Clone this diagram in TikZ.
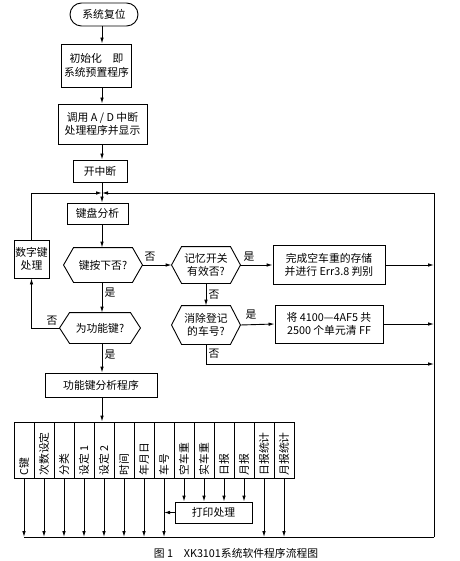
\documentclass[tikz,border=0pt]{standalone}
\usepackage{fontspec}
\setmainfont{Noto Sans CJK SC}
\usetikzlibrary{arrows.meta}
\newcommand\hexshape[1]{\draw (#1.west) -- ([xshift=10pt]#1.north west) -- ([xshift=-10pt]#1.north east) -- (#1.east) -- ([xshift=-10pt]#1.south east) -- ([xshift=10pt]#1.south west) -- cycle;}
\begin{document}
\begin{tikzpicture}[x=1pt,y=-1pt,line width=0.9pt,
  >={Latex[length=6pt,width=3.6pt]},
  font=\fontsize{10.8}{13.5}\selectfont,
  box/.style={draw,inner sep=0pt,align=center},
  hex/.style={inner sep=0pt,align=center},
  lab/.style={inner sep=0pt},
  vbox/.style={draw,minimum width=20pt,minimum height=56pt,inner sep=0pt},
  vtxt/.style={rotate=90,anchor=west,inner sep=0pt}]
\useasboundingbox (0,0) rectangle (459,561);
% main column
\node[draw,rounded corners=11.5pt,minimum width=68pt,minimum height=23pt,inner sep=0pt] (start) at (104,14.5) {系统复位};
\node[box,minimum width=70pt,minimum height=43pt] (init) at (96.5,65.5) {初始化\quad 即\\系统预置程序};
\node[box,minimum width=89pt,minimum height=40pt] (ad) at (102.5,124) {调用 A / D 中断\\处理程序并显示};
\node[box,minimum width=54pt,minimum height=22pt] (kzd) at (100,171) {开中断};
\node[box,minimum width=61pt,minimum height=21pt] (kbd) at (97.5,213.5) {键盘分析};
\node[box,minimum width=35pt,minimum height=38pt] (num) at (31.5,259) {数字键\\处理};
\node[hex,minimum width=78pt,minimum height=34pt] (dec1) at (103,265) {键按下否?};
\node[hex,minimum width=80pt,minimum height=30pt] (dec2) at (100,328) {为功能键?};
\node[box,minimum width=112pt,minimum height=24pt] (func) at (101,385) {功能键分析程序};
\node[hex,minimum width=68pt,minimum height=36pt] (mem) at (206,265) {记忆开关\\有效否?};
\node[hex,minimum width=68pt,minimum height=38pt] (clr) at (206,325) {消除登记\\的车号?};
\node[box,minimum width=112pt,minimum height=39pt] (done) at (329,265) {完成空车重的存储\\并进行 Err3.8 判别};
\node[box,minimum width=108pt,minimum height=38pt] (ff) at (329,324) {将 4100—4AF5 共\\2500 个单元清 FF};
\hexshape{dec1}
\hexshape{dec2}
\hexshape{mem}
\hexshape{clr}
% coordinates
\coordinate (mx) at (102,0);
\coordinate (top) at (102,193);
\coordinate (rt) at (434,193);
\coordinate (rb) at (434,537);
% bottom boxes
\foreach \i/\t in {1/C键,2/次数设定,3/分类,4/设定 1,5/设定 2,6/时间,7/年月日,8/车号,9/空车重,10/实车重,11/日报,12/月报,13/日报统计,14/月报统计}{
  \node[vbox] (vb\i) at (4+20*\i,450) {};
  \node[vtxt] (vt\i) at (4+20*\i,476) {\t};
}
\node[box,minimum width=77pt,minimum height=21pt] (prt) at (213.5,512.5) {打印处理};
% connectors main
\draw[->] (mx |- start.south) -- (mx |- init.north);
\draw[->] (mx |- init.south) -- (mx |- ad.north);
\draw[->] (mx |- ad.south) -- (mx |- kzd.north);
\draw[->] (mx |- kzd.south) -- (mx |- kbd.north);
\draw[->] (mx |- kbd.south) -- (mx |- dec1.north);
\draw[->] (mx |- dec1.south) -- (mx |- dec2.north);
\draw[->] (mx |- dec2.south) -- (mx |- func.north);
\draw[->] (mx |- func.south) -- (mx |- vb5.north);
% loops
\draw[->] (dec2.west) -| (num.south);
\draw[->] (num.north) |- (top);
\draw[->] (rb) -- (rt) -- (top);
\draw[->] (dec1.east) -- (mem.west);
\draw[->] (mem.east) -- (done.west);
\draw[->] (mem.south) -- (clr.north);
\draw[->] (clr.east) -- (ff.west);
\draw[->] (done.east) -- (done.east -| rt);
\draw[->] (ff.east) -- (ff.east -| rt);
\draw[->] (clr.south) |- (rb |- 0,364);
% bottom lines
\draw (vb1.south |- rb) -- (rb);
\foreach \i in {1,...,8,13,14}{
  \draw[->] (vb\i.south) -- (vb\i.south |- rb);
}
\foreach \i in {9,...,12}{
  \draw[->] (vb\i.south) -- (vb\i.south |- prt.north);
}
\draw[->] (prt.west) -- (prt.west -| vb8.south);
% labels
\node[lab] at (150,257) {否};
\node[lab] at (110,293) {是};
\node[lab] at (52,321) {否};
\node[lab] at (110,355) {是};
\node[lab] at (249,257) {是};
\node[lab] at (214,295) {否};
\node[lab] at (251,315) {是};
\node[lab] at (214,354) {否};
% caption
\node[lab] (cap) at (236,553) {图 1\quad XK3101系统软件程序流程图};
\end{tikzpicture}
\end{document}
